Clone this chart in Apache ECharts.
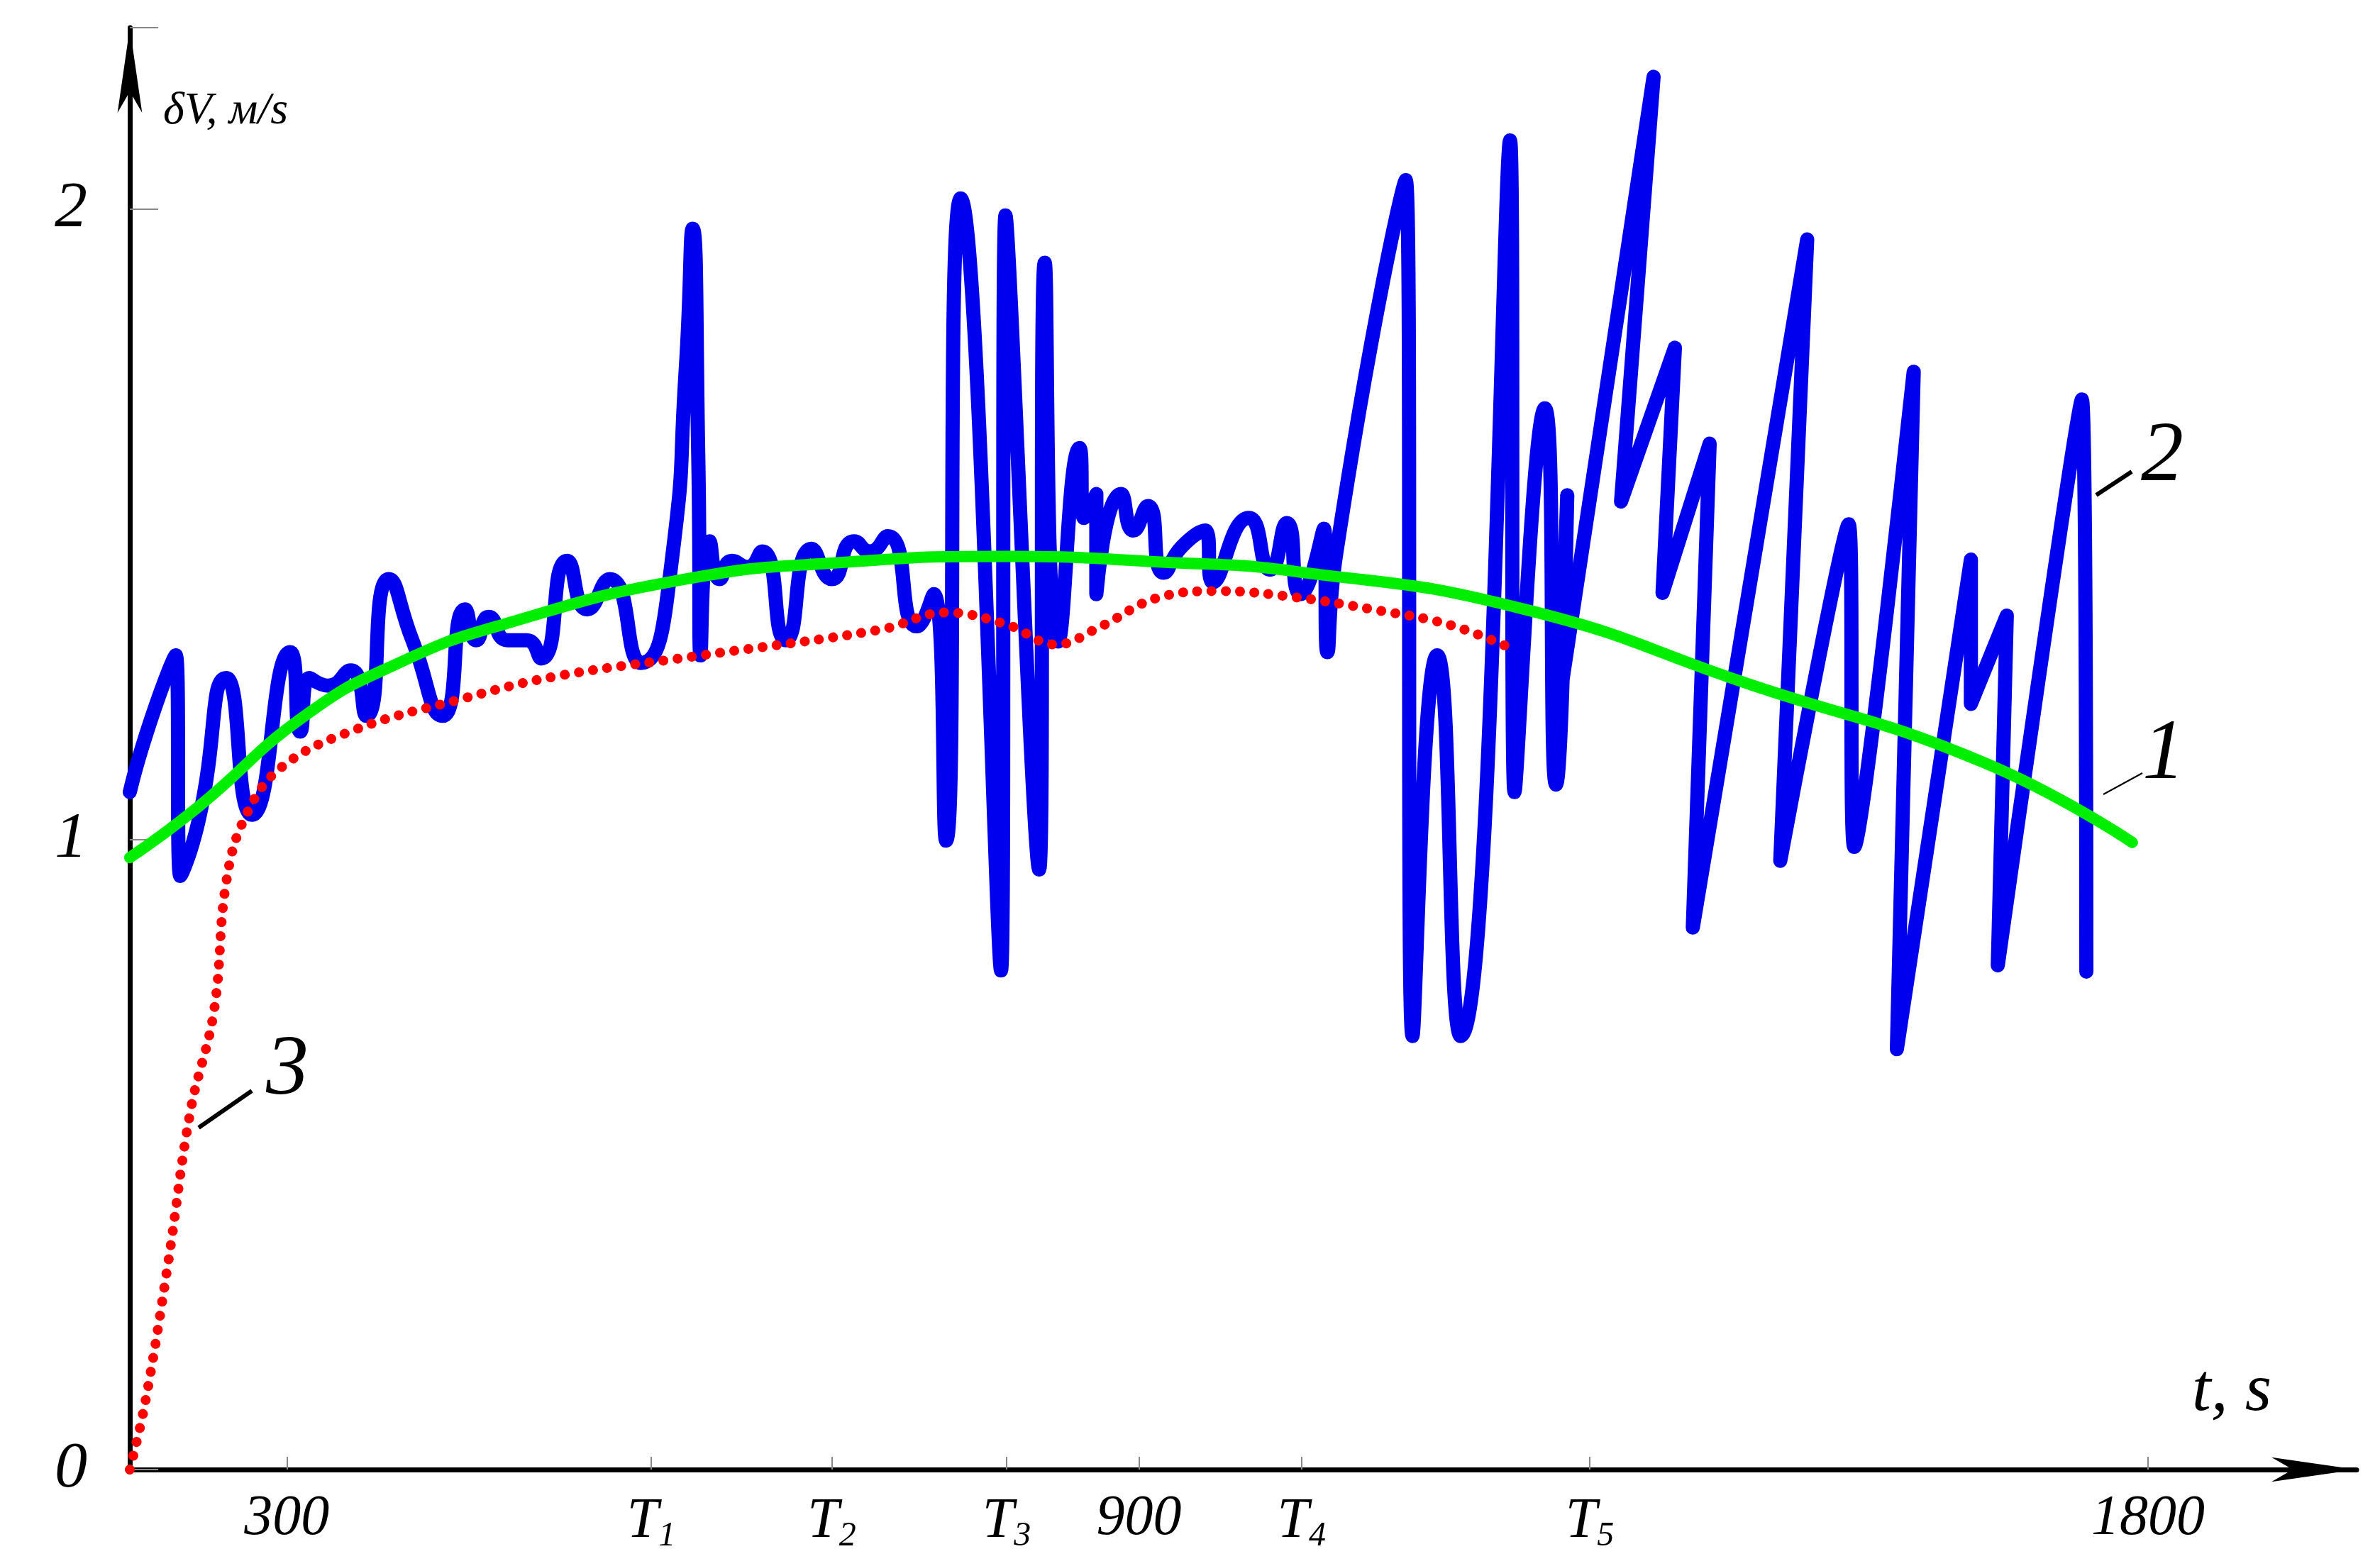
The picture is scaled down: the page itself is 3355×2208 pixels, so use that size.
<!DOCTYPE html>
<html>
<head>
<meta charset="utf-8">
<script src="https://cdn.jsdelivr.net/npm/echarts@6/dist/echarts.min.js"></script>
<style>html,body{margin:0;padding:0;background:#fff}#chart{width:3355px;height:2208px}</style>
</head>
<body>
<div id="chart"></div>
<script>
// x is the (non-uniform) time axis of the original figure, y is dV in m/s
const xTickValues = [140, 465, 626, 782, 900, 1045, 1302, 1800]
const xTickLabels = ['300', 'T1', 'T2', 'T3', '900', 'T4', 'T5', '1800']

// curve 1 (green)
const curve1 = [[0,0.971],[60,1.05],[156,1.196],[240,1.28],[333,1.341],[496,1.413],[640,1.44],[782,1.449],
  [920,1.44],[1040,1.425],[1244,1.365],[1448,1.244],[1652,1.123],[1786,0.995]]

// curve 2 (blue)
const curve2 = [[0,1.075],[20,1.196],[41,1.292],[45,0.942],[61,1.027],[86,1.256],[109,1.039],[143,1.297],
  [152,1.171],[160,1.256],[177,1.244],[197,1.268],[211,1.196],[231,1.413],[252,1.316],[279,1.196],
  [299,1.365],[309,1.316],[320,1.353],[337,1.316],[354,1.316],[367,1.287],[390,1.442],[408,1.365],
  [428,1.413],[456,1.280],[483,1.437],[496,1.751],[502,1.969],[507,1.606],[509,1.292],[517,1.473],
  [526,1.413],[537,1.442],[551,1.432],[564,1.457],[585,1.316],[608,1.461],[626,1.413],[646,1.473],
  [660,1.457],[676,1.481],[702,1.338],[717,1.389],[728,0.998],[741,2.017],[777,0.792],[781,1.990],
  [811,0.952],[816,1.915],[828,1.314],[847,1.621],[851,1.510],[862,1.548],[862,1.389],[884,1.548],
  [895,1.490],[908,1.529],[922,1.423],[938,1.464],[959,1.490],[966,1.408],[998,1.510],[1017,1.428],
  [1032,1.502],[1044,1.389],[1065,1.493],[1068,1.297],[1076,1.454],[1138,2.046],[1144,0.688],
  [1166,1.292],[1187,0.688],[1231,2.109],[1235,1.075],[1262,1.684],[1272,1.087],[1282,1.546],
  [1276,1.232],[1359,2.210],[1330,1.536],[1378,1.780],[1367,1.391],[1409,1.628],[1394,0.860],
  [1496,1.952],[1472,0.966],[1533,1.500],[1538,0.988],[1591,1.742],[1576,0.667],[1642,1.444],
  [1642,1.215],[1674,1.355],[1666,0.800],[1741,1.698],[1745,0.790]]

// curve 3 (red, dotted)
const curve3 = [[0,0],[14,0.109],[34,0.326],[54,0.568],[75,0.727],[86,0.932],[103,1.036],[135,1.114],
  [201,1.174],[290,1.220],[378,1.258],[502,1.290],[670,1.333],[728,1.360],[782,1.341],[826,1.309],
  [864,1.336],[918,1.384],[972,1.394],[1040,1.384],[1108,1.365],[1176,1.341],[1231,1.304]]

const font = "'Liberation Serif', 'DejaVu Serif', serif"
const chart = echarts.init(document.getElementById('chart'))

chart.setOption({
  animation: false,
  backgroundColor: '#fff',
  grid: { left: 183, right: 33, top: 39, bottom: 136 },
  xAxis: {
    type: 'value', min: 0, max: 1986,
    splitLine: { show: false },
    axisLine: { lineStyle: { color: '#000', width: 7 }, symbol: ['none', 'arrow'], symbolSize: [26, 120] },
    axisTick: { show: true, inside: true, length: 18, lineStyle: { color: '#888', width: 2 }, customValues: xTickValues },
    axisLabel: {
      customValues: xTickValues, margin: 30,
      formatter: v => {
        const s = xTickLabels[xTickValues.indexOf(v)] || ''
        return s[0] === 'T' ? '{t|T}{s|' + s.slice(1) + '}' : '{n|' + s + '}'
      },
      rich: {
        n: { fontFamily: font, fontStyle: 'italic', fontSize: 80, color: '#000' },
        t: { fontFamily: font, fontStyle: 'italic', fontSize: 80, color: '#000' },
        s: { fontFamily: font, fontStyle: 'italic', fontSize: 48, color: '#000', verticalAlign: 'bottom', padding: [40, 0, 0, 0] }
      }
    }
  },
  yAxis: {
    type: 'value', min: 0, max: 2.288, interval: 1,
    splitLine: { show: false },
    axisLine: { lineStyle: { color: '#000', width: 7 }, symbol: ['none', 'arrow'], symbolSize: [26, 120] },
    axisTick: { show: true, inside: true, length: 40, lineStyle: { color: '#888', width: 2 } },
    axisLabel: { margin: 60, fontFamily: font, fontStyle: 'italic', fontSize: 92, color: '#000',
      formatter: v => (v > 2.1 ? '' : String(v)) }
  },
  series: [
    { type: 'line', data: curve2, smooth: 0.6, showSymbol: false, z: 2,
      lineStyle: { color: '#0000ee', width: 20, cap: 'round', join: 'round' } },
    { type: 'line', data: curve3, smooth: 0.4, showSymbol: false, z: 3,
      lineStyle: { color: '#ff0000', width: 14, type: [0.1, 20], cap: 'round' } },
    { type: 'line', data: curve1, smooth: 0.5, showSymbol: false, z: 4,
      lineStyle: { color: '#00ee00', width: 16, cap: 'round' } }
  ],
  graphic: [
    { type: 'text', left: 230, top: 125, style: { text: 'δV, м/s', fontFamily: font, fontStyle: 'italic', fontSize: 64, fill: '#000' } },
    { type: 'text', left: 3090, top: 1915, style: { text: 't, s', fontFamily: font, fontStyle: 'italic', fontSize: 96, fill: '#000' } },
    { type: 'text', left: 375, top: 1450, style: { text: '3', fontFamily: font, fontStyle: 'italic', fontSize: 120, fill: '#000' } },
    { type: 'line', shape: { x1: 280, y1: 1590, x2: 355, y2: 1538 }, style: { stroke: '#000', lineWidth: 6 } },
    { type: 'text', left: 3018, top: 585, style: { text: '2', fontFamily: font, fontStyle: 'italic', fontSize: 120, fill: '#000' } },
    { type: 'line', shape: { x1: 2955, y1: 698, x2: 3005, y2: 665 }, style: { stroke: '#000', lineWidth: 6 } },
    { type: 'text', left: 3020, top: 1005, style: { text: '1', fontFamily: font, fontStyle: 'italic', fontSize: 120, fill: '#000' } },
    { type: 'line', shape: { x1: 2965, y1: 1120, x2: 3020, y2: 1090 }, style: { stroke: '#000', lineWidth: 2 } }
  ]
})
</script>
</body>
</html>
